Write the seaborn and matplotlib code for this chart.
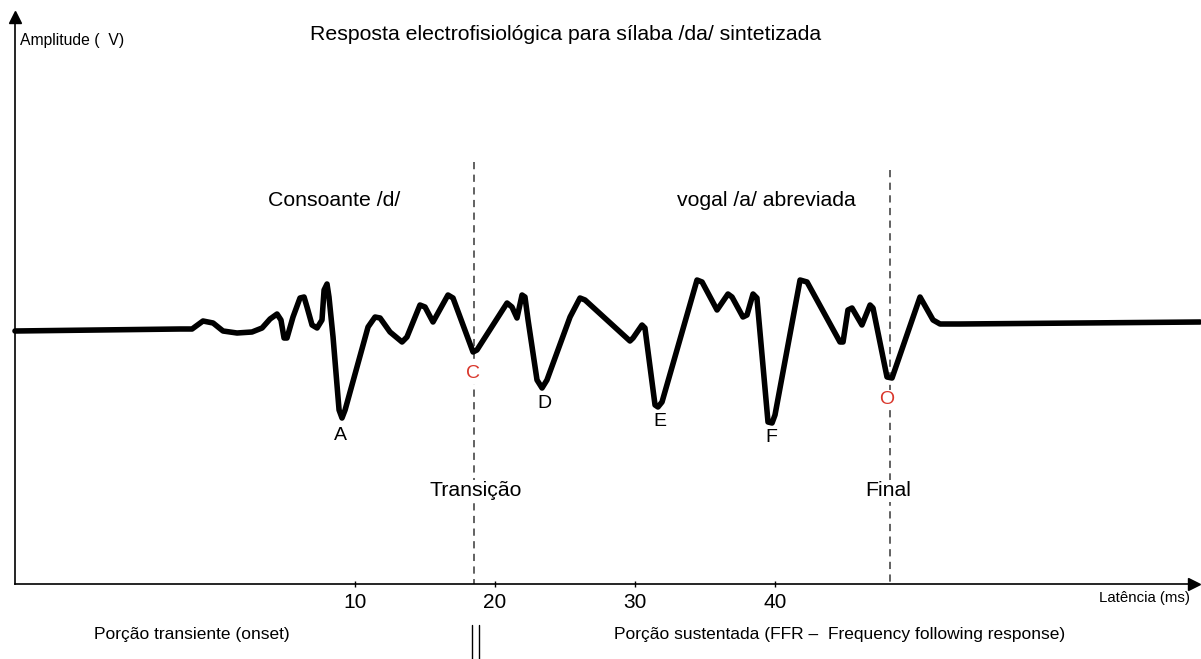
import numpy as np
import pandas as pd
import matplotlib
matplotlib.use('Agg')
import matplotlib.pyplot as plt
import seaborn as sns

sns.set_style('white')
plt.rcParams['font.family'] = ['Liberation Sans', 'DejaVu Sans']
plt.rcParams['text.color'] = 'black'
plt.rcParams['xtick.color'] = 'black'
plt.rcParams['xtick.labelcolor'] = 'black'

# forma de onda esquemática (latência em ms, amplitude em unidades arbitrárias)
lat = [-14.29, -2.50, -1.64, -0.86, -0.14, 0.57, 1.57, 2.64, 3.36, 3.93,
       4.43, 4.71, 4.93, 5.14, 5.57, 6.07, 6.36, 6.57, 6.93, 7.29,
       7.64, 7.79, 8.00, 8.14, 8.43, 8.86, 9.07, 9.29, 10.14, 10.93,
       11.43, 11.79, 12.50, 13.36, 13.71, 14.64, 15.00, 15.57, 16.64, 17.00,
       18.43, 18.71, 20.86, 21.21, 21.57, 21.93, 22.14, 22.36, 23.00, 23.36,
       23.71, 25.36, 26.07, 26.43, 29.64, 29.86, 30.50, 30.71, 31.43, 31.64,
       31.93, 34.43, 34.79, 35.86, 36.64, 36.93, 37.71, 38.00, 38.43, 38.71,
       39.50, 39.79, 40.00, 41.79, 42.29, 44.64, 44.86, 45.21, 45.50, 46.21,
       46.79, 47.00, 48.00, 48.36, 50.36, 51.29, 51.79, 53.21, 70.36]
amp = [-0.02, 0.02, 0.02, 0.18, 0.14, -0.02, -0.06, -0.04, 0.04, 0.22,
       0.32, 0.20, -0.16, -0.16, 0.26, 0.64, 0.66, 0.46, 0.10, 0.04,
       0.20, 0.80, 0.92, 0.66, -0.14, -1.60, -1.76, -1.60, -0.74, 0.06,
       0.26, 0.24, -0.04, -0.24, -0.14, 0.50, 0.46, 0.16, 0.70, 0.64,
       -0.44, -0.40, 0.54, 0.46, 0.24, 0.70, 0.66, 0.20, -1.00, -1.16,
       -1.00, 0.26, 0.64, 0.60, -0.22, -0.16, 0.10, 0.04, -1.50, -1.54,
       -1.44, 1.00, 0.96, 0.40, 0.72, 0.66, 0.26, 0.30, 0.72, 0.64,
       -1.84, -1.86, -1.70, 1.00, 0.96, -0.24, -0.24, 0.40, 0.44, 0.10,
       0.50, 0.44, -0.94, -0.96, 0.66, 0.20, 0.12, 0.12, 0.16]

picos = ['A', 'C', 'D', 'E', 'F', 'O']
picos_x = [8.93, 18.43, 23.5, 31.79, 39.71, 48.0]
picos_y = [-2.12, -0.88, -1.48, -1.84, -2.16, -1.40]
picos_cor = ['black', '#d9362b', 'black', 'black', 'black', '#d9362b']

ticks = [10, 20, 30, 40]
marcos_x = [18.5, 48.21]
marcos_topo = [3.36, 3.20]

df = pd.DataFrame({'lat': lat, 'amp': amp})

fig = plt.figure(figsize=(12.01, 6.59), dpi=100)
ax = fig.add_axes([0, 0, 1, 1])
ax.set_xlim(-15.36, 70.43)
ax.set_ylim(-6.58, 6.6)

sns.lineplot(data=df, x='lat', y='amp', color='black', lw=4,
             estimator=None, sort=False, ax=ax,
             solid_joinstyle='round', solid_capstyle='round')

# eixos com setas
x0, y0 = -14.29, -5.08
ax.spines['top'].set_visible(False)
ax.spines['right'].set_visible(False)
ax.spines['bottom'].set_position(('data', y0))
ax.spines['left'].set_position(('data', x0))
ax.spines['bottom'].set_bounds(x0, 69.9)
ax.spines['left'].set_bounds(y0, 6.26)
for s in ['bottom', 'left']:
    ax.spines[s].set_color('black')
    ax.spines[s].set_linewidth(1.2)
ax.plot([69.93], [y0], marker='>', color='black', ms=9, clip_on=False)
ax.plot([x0], [6.26], marker='^', color='black', ms=8, clip_on=False)

ax.set_xticks(ticks)
ax.set_xticklabels([str(t) for t in ticks], fontsize=15, color='black')
ax.tick_params(axis='x', direction='inout', length=5, width=1, pad=4, bottom=True)
ax.set_yticks([])
ax.set_xlabel('')
ax.set_ylabel('')

# linhas tracejadas (transição e final)
for mx, mt in zip(marcos_x, marcos_topo):
    ax.plot([mx, mx], [mt, y0], ls=(0, (4, 3)), color='#555555', lw=1.3, zorder=1)

for p, px, py, pc in zip(picos, picos_x, picos_y, picos_cor):
    ax.text(px, py, p, ha='center', va='center', fontsize=14, color=pc,
            bbox=dict(facecolor='white', edgecolor='none', pad=1))

ax.text(18.64, -3.22, 'Transição', ha='center', va='center', fontsize=15.3,
        bbox=dict(facecolor='white', edgecolor='none', pad=1))
ax.text(48.07, -3.22, 'Final', ha='center', va='center', fontsize=15.3,
        bbox=dict(facecolor='white', edgecolor='none', pad=1))
ax.text(8.5, 2.58, 'Consoante /d/', ha='center', va='center', fontsize=15.3)
ax.text(39.36, 2.58, 'vogal /a/ abreviada', ha='center', va='center', fontsize=15.3)
ax.text(25.07, 5.9, 'Resposta electrofisiológica para sílaba /da/ sintetizada',
        ha='center', va='center', fontsize=15.3)
ax.text(-13.93, 5.8, 'Amplitude (  V)', ha='left', va='center', fontsize=11.3)
ax.text(69.64, -5.36, 'Latência (ms)', ha='right', va='center', fontsize=10.8)
ax.text(-1.64, -6.08, 'Porção transiente (onset)', ha='center', va='center', fontsize=12.5)
ax.text(44.64, -6.08, 'Porção sustentada (FFR –  Frequency following response)',
        ha='center', va='center', fontsize=12.5)

# separador duplo
for bx in [18.36, 18.86]:
    ax.plot([bx, bx], [-5.9, -6.58], color='black', lw=1, clip_on=False)

fig.savefig('out.png', dpi=100)
